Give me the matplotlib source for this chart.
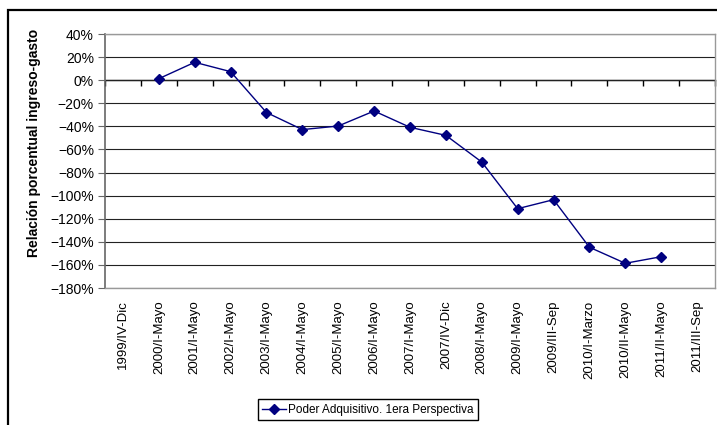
import numpy as np
import matplotlib
matplotlib.use("Agg")
import matplotlib.pyplot as plt
from matplotlib.patches import Rectangle
from matplotlib.ticker import PercentFormatter

plt.rcParams['font.family'] = ['Liberation Sans', 'DejaVu Sans']

periods = ["1999/IV-Dic", "2000/I-Mayo", "2001/I-Mayo", "2002/I-Mayo", "2003/I-Mayo",
           "2004/I-Mayo", "2005/I-Mayo", "2006/I-Mayo", "2007/I-Mayo", "2007/IV-Dic",
           "2008/I-Mayo", "2009/I-Mayo", "2009/III-Sep", "2010/I-Marzo", "2010/II-Mayo",
           "2011/II-Mayo", "2011/III-Sep"]
# relacion porcentual (%); None = sin dato
poder_adq = [None, 1.3, 15.5, 7.4, -28.0, -42.8, -39.7, -26.7, -40.8, -47.8,
             -70.9, -111.3, -103.5, -144.7, -158.6, -152.9, None]
yticks = [40, 20, 0, -20, -40, -60, -80, -100, -120, -140, -160, -180]

x = np.arange(len(periods))
y = np.array([np.nan if v is None else v for v in poder_adq], dtype=float)

fig = plt.figure(figsize=(7.17, 4.25), dpi=100)
ax = fig.add_axes([105/717, 1 - 288/425, 610/717, 254/425])

ax.plot(x, y, color='#000080', lw=1.0, marker='D', ms=5,
        label='Poder Adquisitivo. 1era Perspectiva')

ax.set_xlim(-0.5, len(periods) - 0.5)
ax.set_ylim(min(yticks), max(yticks))
ax.set_yticks(yticks)
ax.yaxis.set_major_formatter(PercentFormatter(decimals=0))
ax.grid(axis='y', color='#222222', lw=0.8)
ax.set_axisbelow(True)
ax.tick_params(axis='y', direction='out', length=5, color='#666666', labelsize=10, pad=3)

ax.set_xticks(x)
ax.set_xticklabels(periods, rotation=90, fontsize=9.5, va='top', ha='center')
ax.tick_params(axis='x', length=0, pad=9)

for s in ['top', 'right', 'bottom']:
    ax.spines[s].set_color('#999999')
    ax.spines[s].set_linewidth(1.0)
ax.spines['left'].set_color('#666666')
ax.spines['left'].set_linewidth(1.2)

# eje de categorias en 0 con marcas entre categorias
zero_ax = ax.secondary_xaxis(0, transform=ax.transData)
zero_ax.set_xticks(np.arange(len(periods) + 1) - 0.5)
zero_ax.set_xticklabels([])
zero_ax.tick_params(direction='out', length=4, width=1.0, color='black')
zero_ax.spines['bottom'].set_color('black')
zero_ax.spines['bottom'].set_linewidth(1.0)

fig.text(34/717, 1 - 143/425, 'Relación porcentual ingreso-gasto', rotation=90,
         fontsize=10, fontweight='bold', ha='center', va='center')

leg = fig.legend(loc='upper center', bbox_to_anchor=(368/717, 1 - 399/425),
                 fontsize=8.5, frameon=True, fancybox=False, framealpha=1,
                 edgecolor='black', borderpad=0.4, handlelength=2.0,
                 handletextpad=0.2, borderaxespad=0)
leg.get_frame().set_linewidth(1.0)

# marco exterior del grafico
fig.patches.append(Rectangle((8/717, -0.05), 1.0, 1 - 10/425 + 0.05,
                             transform=fig.transFigure, fill=False,
                             edgecolor='black', lw=1.6))

fig.savefig('out.png', dpi=100)
